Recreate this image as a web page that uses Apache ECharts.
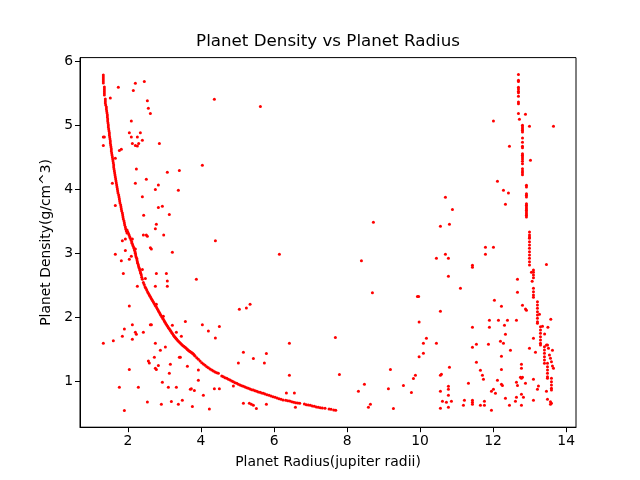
<!DOCTYPE html>
<html>
<head>
<meta charset="utf-8">
<script src="https://cdn.jsdelivr.net/npm/echarts@6/dist/echarts.min.js"></script>
<style>
  html, body { margin: 0; padding: 0; background: #fff; }
  #chart { width: 640px; height: 480px; }
</style>
</head>
<body>
<div id="chart"></div>
<script>
// [radius, density] pairs

// the dense curve on the left, top part (nearly vertical)
var curveTop = [
	[1.324,5.791],[1.324,5.759],[1.324,5.728],[1.324,5.697],[1.324,5.666],
	[1.352,5.603],[1.352,5.572],[1.352,5.541],[1.352,5.509],[1.352,5.478],
	[1.379,5.416],[1.379,5.384],[1.379,5.353],[1.388,5.322],[1.407,5.291],[1.407,5.259],[1.416,5.228],
	[1.425,5.197],[1.434,5.166],[1.434,5.134],[1.443,5.103],[1.443,5.072],[1.452,5.041],[1.461,5.009],
	[1.461,4.978],[1.470,4.947],[1.480,4.916],[1.489,4.884],[1.489,4.853],[1.498,4.822],[1.507,4.791],
	[1.516,4.759],[1.516,4.728],[1.525,4.697],[1.534,4.666],[1.543,4.634],[1.543,4.603],[1.553,4.572],
	[1.562,4.541],[1.571,4.509],[1.580,4.478],[1.589,4.447],[1.598,4.416],[1.607,4.384],[1.607,4.353],
	[1.617,4.322],[1.626,4.291],[1.635,4.259],[1.644,4.228],[1.653,4.197],[1.662,4.166],[1.671,4.134],
	[1.680,4.103],[1.690,4.072],[1.699,4.041],[1.708,4.009],[1.717,3.978],[1.726,3.947],[1.744,3.916],
	[1.754,3.884],[1.763,3.853],[1.772,3.822],[1.781,3.791],[1.799,3.759],[1.808,3.728],[1.817,3.697],
	[1.827,3.666],[1.845,3.634],[1.854,3.603],[1.863,3.572],[1.872,3.541],[1.890,3.509],[1.900,3.478],
	[1.909,3.447],[1.927,3.416],[1.936,3.384],[1.954,3.353],[1.973,3.322]
];

// the curve, middle part (the bend)
var curveMid = [
	[1.973,3.369],[1.991,3.343],[2.009,3.317],[2.028,3.291],[2.046,3.265],[2.064,3.239],[2.082,3.213],
	[2.101,3.187],[2.110,3.161],[2.128,3.135],[2.146,3.109],[2.165,3.083],[2.174,3.057],[2.192,3.030],
	[2.201,3.004],[2.210,2.978],[2.219,2.952],[2.238,2.926],[2.247,2.900],[2.256,2.874],[2.265,2.848],
	[2.283,2.822],[2.292,2.796],[2.311,2.770],[2.320,2.744],[2.338,2.718],[2.347,2.692],[2.365,2.666],
	[2.375,2.630],[2.393,2.600],[2.420,2.550],[2.466,2.483],[2.512,2.431],[2.557,2.379],[2.603,2.332],
	[2.649,2.285],[2.694,2.244],[2.740,2.197],[2.786,2.155],[2.831,2.108],[2.877,2.061],[2.923,2.015],
	[2.968,1.973],[3.014,1.926],[3.060,1.884],[3.105,1.843],[3.151,1.806],[3.197,1.765],[3.242,1.728],
	[3.288,1.692],[3.334,1.660],[3.388,1.625],[3.443,1.595],[3.498,1.565],[3.553,1.540],[3.607,1.515],
	[3.650,1.490],[3.700,1.470],[3.750,1.450],[3.790,1.430]
];

// more dots read along the bend, where they sit closest together
var curveMidFill = [
	[2.443,2.517],[2.489,2.457],[2.535,2.405],[2.580,2.356],[2.626,2.309],[2.672,2.265],[2.717,2.221],
	[2.763,2.176],[2.809,2.132],[2.854,2.085],[2.900,2.038],[2.946,1.994],[2.991,1.950],[3.037,1.905],
	[3.083,1.864],[3.128,1.825],[3.174,1.786],[3.220,1.747],[3.265,1.710],[3.311,1.676],[3.361,1.643],
	[3.416,1.610],[3.470,1.580],[3.526,1.553],[3.580,1.528],[3.630,1.502],[3.675,1.480],[3.725,1.460],
	[3.770,1.440],[3.813,1.415]
];

// the curve, lower part
var curveLow = [
	[3.836,1.400],[3.882,1.374],[3.927,1.348],[3.973,1.322],[4.019,1.296],[4.064,1.275],[4.110,1.254],
	[4.156,1.233],[4.201,1.218],[4.247,1.197],[4.293,1.181],[4.338,1.166],[4.384,1.150],[4.430,1.140],
	[4.475,1.129],[4.567,1.088],[4.612,1.077],[4.658,1.061],[4.704,1.051],[4.749,1.035],[4.795,1.025],
	[4.841,1.009],[4.886,0.999],[4.932,0.983],[4.978,0.973],[5.023,0.957],[5.069,0.947],[5.115,0.936],
	[5.160,0.926],[5.206,0.916],[5.252,0.905],[5.297,0.895],[5.343,0.884],[5.389,0.874],[5.434,0.869],
	[5.480,0.858],[5.526,0.848],[5.571,0.838],[5.617,0.832],[5.662,0.822],[5.708,0.817]
];

// the curve, tail of separate dots
var curveTail = [
	[5.753,0.806],[5.808,0.796],[5.863,0.785],[5.917,0.775],[5.972,0.765],[6.027,0.754],[6.082,0.744],
	[6.137,0.733],[6.191,0.723],[6.246,0.712],[6.319,0.707],[6.374,0.702],[6.429,0.697],[6.484,0.686],
	[6.538,0.676],[6.593,0.671],[6.648,0.666],[6.703,0.660],[6.831,0.650],[6.885,0.640],[6.940,0.634],
	[6.995,0.629],[7.050,0.619],[7.105,0.614],[7.159,0.603],[7.214,0.598],[7.269,0.593],[7.324,0.588],
	[7.397,0.582],[7.506,0.572],[7.561,0.567],[7.634,0.556],[7.689,0.551]
];

// scattered points, left half
var scatterLeft = [
	[1.735,5.60],[2.201,5.66],[2.447,5.69],[2.146,5.55],[1.516,5.43],[2.530,5.39],[4.365,5.41],[2.557,5.27],
	[2.612,5.19],[2.091,5.07],[2.036,4.89],[2.338,4.89],[1.324,4.82],[1.352,4.82],[2.091,4.82],[2.256,4.82],
	[2.393,4.77],[1.324,4.69],[2.119,4.72],[2.201,4.69],[2.256,4.68],[2.292,4.72],[2.859,4.72],[1.763,4.61],
	[1.817,4.63],[1.653,4.49],[4.036,4.38],[2.229,4.32],[3.406,4.30],[3.077,4.27],[1.571,4.10],[2.201,4.10],
	[2.502,4.16],[2.831,4.07],[2.749,4.00],[3.379,3.99],[2.393,3.89],[1.653,3.75],[2.831,3.72],[2.941,3.74],
	[2.429,3.60],[3.132,3.61],[2.776,3.46],[2.749,3.39],[2.420,3.29],[2.502,3.29],[2.530,3.27],[2.977,3.29],
	[1.845,3.20],[1.927,3.23],[2.119,3.23],[4.393,3.20],[1.927,3.05],[2.201,3.07],[2.612,3.09],[2.640,3.07],
	[3.215,3.02],[1.653,2.99],[1.817,2.89],[2.036,2.91],[2.091,2.96],[2.393,2.75],[1.872,2.69],[2.776,2.69],
	[3.050,2.69],[2.475,2.61],[3.872,2.60],[3.077,2.57],[2.256,2.49],[2.749,2.49],[3.077,2.49],[2.036,2.18],
	[2.776,2.21],[5.050,2.13],[5.242,2.15],[5.343,2.21],[2.612,1.89],[2.640,1.89],[2.968,2.02],[2.119,1.89],
	[3.215,1.88],[3.571,1.94],[4.036,1.89],[4.502,1.86],[1.900,1.82],[2.201,1.77],[2.229,1.74],[2.420,1.77],
	[3.324,1.77],[4.201,1.79],[1.845,1.71],[3.461,1.71],[2.119,1.66],[4.393,1.68],[1.598,1.64],[1.324,1.60],
	[2.749,1.60],[3.023,1.54],[2.886,1.49],[5.160,1.46],[3.434,1.38],[3.406,1.38],[2.722,1.38],[3.626,1.24],
	[2.557,1.32],[2.584,1.29],[2.831,1.25],[2.749,1.21],[2.776,1.19],[3.160,1.27],[5.023,1.29],[2.036,1.19],
	[3.927,1.18],[3.132,1.13],[3.927,1.02],[2.941,0.99],[1.763,0.91],[2.283,0.91],[3.105,0.91],[3.324,0.91],
	[3.708,0.88],[3.735,0.89],[3.817,0.86],[4.365,0.89],[4.502,0.89],[4.886,0.93],[4.064,0.785],[2.530,0.68],
	[3.187,0.69],[3.488,0.71],[2.913,0.645],[3.379,0.645],[3.763,0.61],[5.160,0.66],[5.324,0.66],[4.228,0.57],
	[1.900,0.55]
];

// scattered points in the middle
var scatterMid = [
	[6.146,2.99],[8.393,2.89],[8.694,2.39],[9.927,2.33],[9.960,2.33],[9.973,1.93],[7.680,1.69],[6.420,1.60],
	[5.790,1.44],[5.434,1.36],[5.735,1.29],[9.973,1.39],[9.187,1.19],[6.420,1.10],[7.790,1.11],[9.872,1.10],
	[9.817,1.05],[8.475,0.96],[9.543,0.94],[9.132,0.89],[8.311,0.85],[9.762,0.83],[6.338,0.82],[6.557,0.82],
	[5.379,0.645],[5.434,0.63],[5.516,0.58],[5.790,0.645],[6.585,0.60],[8.639,0.645],[8.585,0.60],[9.269,0.58],
	[5.626,5.30],[8.721,3.49]
];

// the near-vertical trail on the right
var trailRight = [
	[12.694,5.80],[12.694,5.707],[12.694,5.69],[12.694,5.60],[12.694,5.57],[12.694,5.535],[12.694,5.515],
	[12.694,5.457],[12.694,5.37],[12.694,5.343],[12.694,5.19],
	[12.804,5.004],[12.804,4.978],[12.804,4.952],[12.804,4.926],[12.804,4.90],[12.804,4.806],[12.804,4.739],
	[12.804,4.676],[12.804,4.655],[12.804,4.561],[12.804,4.535],[12.804,4.509],[12.804,4.478],[12.804,4.442],
	[12.804,4.405],[12.804,4.327],[12.804,4.29],[12.804,4.264],[12.804,4.233],
	[12.913,4.067],[12.913,4.041],[12.913,3.936],[12.913,3.91],[12.913,3.884],[12.913,3.78],[12.913,3.754],
	[12.913,3.728],[12.913,3.702],[12.913,3.676],[12.913,3.65],[12.913,3.624],[12.913,3.598],[12.913,3.572],
	[12.996,3.338],[12.996,3.291],[12.996,3.26],[12.996,3.239],[12.996,3.186],[12.996,3.134],[12.996,3.082],
	[12.996,3.030],[12.996,2.978],[12.996,2.926],[12.996,2.874],[12.996,2.822],
	[13.105,2.744],[13.105,2.707],[13.105,2.666],[13.105,2.624],[13.07,2.567],[13.05,2.707],[13.105,2.457],
	[13.105,2.405],[13.105,2.353],[13.105,2.317],
	[13.214,2.249],[13.214,2.197],[13.214,2.145],[13.214,2.093],[13.214,2.040],[13.214,1.988],[13.214,1.936],
	[13.214,1.910],
	[13.297,1.858],[13.297,1.806],[13.297,1.754],[13.297,1.702],[13.297,1.650],[13.297,1.598],[13.297,1.572],
	[13.406,1.546],[13.406,1.494],[13.406,1.442],[13.406,1.389],[13.406,1.337],[13.406,1.285],
	[13.489,1.285],[13.489,1.233],[13.489,1.181],[13.489,1.129],[13.489,1.077],[13.489,1.051],
	[13.598,1.051],[13.598,0.999],[13.598,0.947],[13.598,0.895],[13.598,0.869]
];

// scattered points, right cluster
var scatterRight = [
	[12.72,5.10],[12.886,5.176],[12.009,5.07],[13.653,4.99],[12.996,4.99],[13.023,4.457],[12.447,4.676],
	[12.119,4.13],[12.283,3.99],[12.42,3.947],[12.338,3.77],[10.694,3.879],[10.886,3.69],[10.557,3.426],
	[10.804,3.457],[13.461,2.83],[12.667,2.598],[12.667,2.395],[13.269,2.051],[12.804,2.192],[12.886,2.134],
	[12.913,2.113],[13.58,1.973],[13.50,1.848],[13.352,1.863],[13.41,1.743],[13.105,1.676],[13.49,1.572],
	[12.996,1.52],[13.16,1.457],[13.461,1.572],[13.516,1.52],[13.543,1.415],[13.571,1.363],[13.598,1.311],
	[13.625,1.243],[13.653,1.207],[13.625,1.488],[13.242,0.931],[13.214,0.879],[13.461,0.848],[13.489,0.723],
	[13.571,0.686],[13.598,0.66],[13.571,0.645],[13.105,1.036],[13.105,0.707],[12.776,1.27],[12.776,1.207],
	[12.749,1.067],[12.804,1.067],[12.776,1.051],[12.886,0.973],[12.639,0.988],[12.667,0.94],[12.776,0.801],
	[12.831,0.754],[12.639,0.754],[12.612,0.692],[12.776,0.629],[12.447,0.629],[12.338,0.738],[12.064,0.817],
	[12.009,0.879],[11.954,0.848],[12.119,1.02],[12.228,0.957],[12.256,0.941],[12.228,1.191],[12.228,1.395],
	[12.475,1.488],[12.283,1.598],[12.201,1.629],[12.338,1.738],[12.311,1.879],[11.899,1.957],[12.146,1.957],
	[12.393,1.957],[12.639,1.957],[11.899,1.848],[11.872,1.582],[12.036,2.27],[12.228,2.176],[11.79,3.098],
	[12.009,3.098],[11.79,2.989],[11.434,2.817],[11.434,2.785],[10.694,2.989],[10.447,2.926],[10.776,2.926],
	[10.776,2.645],[11.105,2.457],[10.557,2.098],[11.434,1.848],[10.173,1.676],[10.09,1.598],[10.447,1.598],
	[11.434,1.535],[11.543,1.582],[10.09,1.442],[11.543,1.301],[10.804,1.223],[10.557,1.098],[10.584,1.113],
	[11.652,1.176],[11.707,1.098],[11.735,1.036],[11.324,0.973],[10.557,0.848],[10.776,0.926],[10.776,0.879],
	[10.776,0.785],[10.612,0.692],[10.721,0.676],[10.858,0.692],[10.557,0.582],[10.776,0.598],[11.214,0.707],
	[11.187,0.629],[11.434,0.707],[11.434,0.676],[11.434,0.645],[11.652,0.629],[11.762,0.629],[11.762,0.692],
	[11.954,0.551]
];

var xTicks = [2, 4, 6, 8, 10, 12, 14];
var yTicks = [1, 2, 3, 4, 5, 6];

var font = 'DejaVu Sans';
var groups = [curveTop, curveMid, curveMidFill, curveLow, curveTail, scatterLeft, scatterMid, trailRight, scatterRight];

var series = [];
for (var i = 0; i < groups.length; i++) {
	series.push({
		type: 'scatter',
		data: groups[i],
		symbol: 'circle',
		symbolSize: 3,
		itemStyle: { color: '#ff0000', opacity: 1 },
		animation: false
	});
}

var chart = echarts.init(document.getElementById('chart'));
chart.setOption({
	backgroundColor: '#fff',
	animation: false,
	title: {
		text: 'Planet Density vs Planet Radius',
		left: 328,
		top: 33,
		padding: 0,
		textAlign: 'center',
		textStyle: { fontFamily: font, fontSize: 16.7, fontWeight: 'normal', color: '#000' }
	},
	grid: {
		left: 80, right: 64, top: 57.6, bottom: 52.8,
		show: true, borderColor: '#000', borderWidth: 1, backgroundColor: 'transparent'
	},
	xAxis: {
		type: 'value',
		min: 0.685,
		max: 14.27,
		name: 'Planet Radius(jupiter radii)',
		nameLocation: 'middle',
		nameGap: 28,
		nameTextStyle: { fontFamily: font, fontSize: 13.9, color: '#000' },
		axisLine: { lineStyle: { color: '#000', width: 1 } },
		axisTick: { inside: false, length: 5, lineStyle: { color: '#000' }, customValues: xTicks },
		axisLabel: { fontFamily: font, fontSize: 13.9, color: '#000', margin: 7, customValues: xTicks },
		splitLine: { show: false }
	},
	yAxis: {
		type: 'value',
		min: 0.2875,
		max: 6.0625,
		name: 'Planet Density(g/cm^3)',
		nameLocation: 'middle',
		nameRotate: 90,
		nameGap: 26,
		nameTextStyle: { fontFamily: font, fontSize: 13.9, color: '#000' },
		axisLine: { lineStyle: { color: '#000', width: 1 } },
		axisTick: { inside: false, length: 5, lineStyle: { color: '#000' }, customValues: yTicks },
		axisLabel: { fontFamily: font, fontSize: 13.9, color: '#000', margin: 7, customValues: yTicks },
		splitLine: { show: false }
	},
	series: series
});
</script>
</body>
</html>
